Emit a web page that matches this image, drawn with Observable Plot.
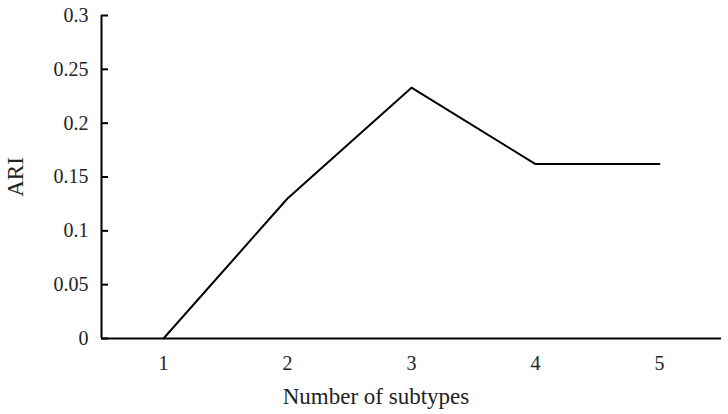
<!DOCTYPE html>
<html><head><meta charset="utf-8">
<script src="https://cdn.jsdelivr.net/npm/d3@7"></script>
<script src="https://cdn.jsdelivr.net/npm/@observablehq/plot@0.6"></script>
<style>body{margin:0;background:#fff}</style>
</head><body><div id="chart"></div>
<script>
const subtypes = [1, 2, 3, 4, 5];
const ari = [0, 0.13, 0.233, 0.162, 0.162];
const yTicks = [0, 0.05, 0.1, 0.15, 0.2, 0.25, 0.3];
const yTickLabels = ["0", "0.05", "0.1", "0.15", "0.2", "0.25", "0.3"];
const data = subtypes.map((s, i) => ({s, v: ari[i]}));
const font = "Liberation Serif, Times New Roman, serif";
const chart = Plot.plot({
  width: 728, height: 414,
  marginLeft: 101, marginRight: 7, marginTop: 15, marginBottom: 76,
  style: {fontFamily: font, fontSize: "20px", color: "#222", background: "#fff"},
  x: {domain: [0.5, 5.5]},
  y: {domain: [0, 0.3]},
  marks: [
    Plot.axisX(subtypes, {tickSize: 0, tickPadding: 17, fontSize: 20, label: null, tickFormat: (d) => String(d)}),
    Plot.axisY(yTicks, {tickSize: 0, tickPadding: 13, fontSize: 20, label: null, tickFormat: (d) => yTickLabels[yTicks.indexOf(d)]}),
    Plot.axisY(yTicks, {tickSize: 7, dx: 7, text: null, label: null, strokeWidth: 2, stroke: "#000"}),
    Plot.ruleY([0], {stroke: "#000", strokeWidth: 2}),
    Plot.ruleX([0.5], {stroke: "#000", strokeWidth: 2}),
    Plot.line(data, {x: "s", y: "v", stroke: "#000", strokeWidth: 2})
  ]
});
const svg = d3.select(chart);
svg.selectAll("text").style("font-family", font).style("font-size", "20px").attr("fill", "#222");
svg.append("text").attr("x", 376).attr("y", 404).attr("text-anchor", "middle")
  .style("font-size", "23px").style("font-family", font).attr("fill", "#222").text("Number of subtypes");
svg.append("text").attr("transform", "translate(23,177) rotate(-90)").attr("text-anchor", "middle")
  .style("font-size", "23px").style("font-family", font).attr("fill", "#222").text("ARI");
document.getElementById("chart").appendChild(chart);
</script>
</body></html>
